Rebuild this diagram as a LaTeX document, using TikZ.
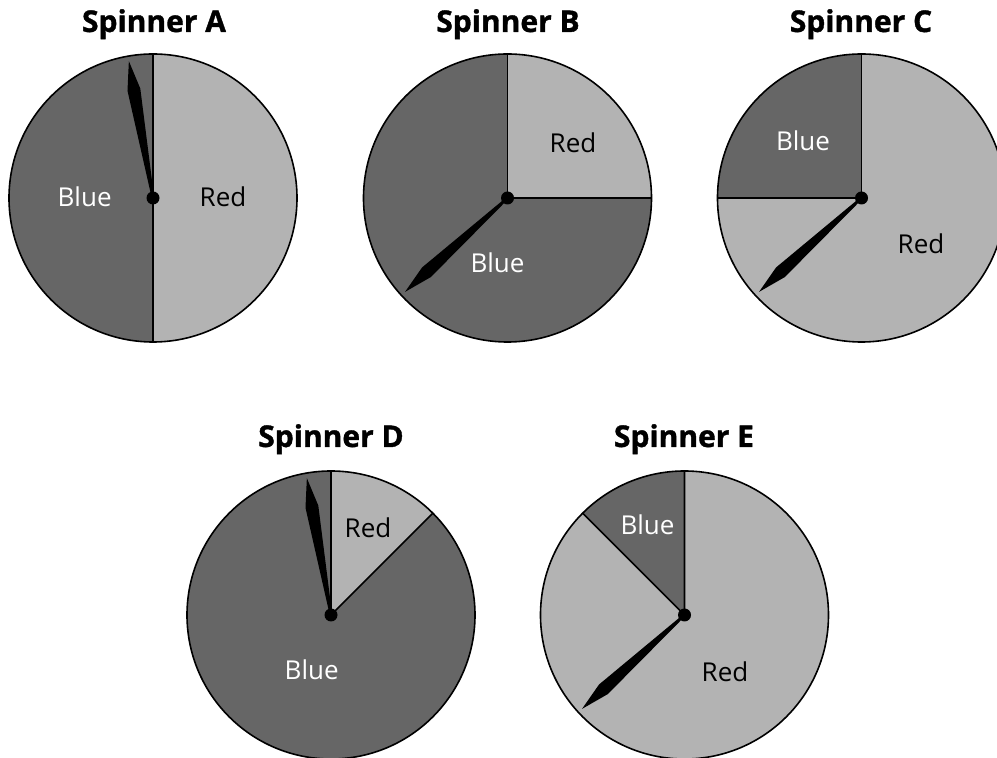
\documentclass[tikz,border=0pt]{standalone}
\usepackage{fontspec}
\setmainfont{Open Sans}
\newfontfamily\titlefont{Open Sans}[BoldFeatures={FakeBold=1.2}]
\usetikzlibrary{calc}
\definecolor{darkgr}{RGB}{102,102,102}
\definecolor{lightgr}{RGB}{179,179,179}
\tikzset{
  title/.style={anchor=base, font=\titlefont\fontsize{30}{36}\selectfont\bfseries, inner sep=0pt},
  lbl/.style={font=\fontsize{26}{30}\selectfont, inner sep=0pt},
  wlbl/.style={lbl, text=white},
  blbl/.style={lbl, text=black},
  rim/.style={draw=black, line width=1.6pt},
  divider/.style={draw=black, line width=1.6pt},
}
\newcommand{\needle}[2]{%
  \begin{scope}[shift={(#1)}, rotate=#2]
    \fill[black] (0,-1.2) -- (110,-6.5) -- (139,0) -- (110,6.5) -- (0,1.2) -- cycle;
  \end{scope}}
\begin{document}
\begin{tikzpicture}[x=1pt,y=1pt]
\useasboundingbox (0,0) rectangle (997,758);
\clip (0,0) rectangle (997,758);
% ---------- Spinner A
\coordinate (cA) at (153,560);
\fill[lightgr] (cA) circle[radius=144];
\fill[darkgr] (cA) -- ++(90:144) arc[start angle=90,end angle=270,radius=144] -- cycle;
\draw[divider] ($(cA)+(90:144)$) -- ($(cA)+(270:144)$);
\needle{cA}{100}
\draw[rim] (cA) circle[radius=144];
\fill (cA) circle[radius=6.5];
\node[title] (tA) at (154,726) {Spinner A};
\node[wlbl] (bA) at (84.6,561) {Blue};
\node[blbl] (rA) at (223,561) {Red};
% ---------- Spinner B
\coordinate (cB) at (507.5,560);
\fill[darkgr] (cB) circle[radius=144];
\fill[lightgr] (cB) -- ++(0:144) arc[start angle=0,end angle=90,radius=144] -- cycle;
\draw[divider] ($(cB)+(90:144)$) -- (cB) -- ($(cB)+(0:144)$);
\needle{cB}{222.5}
\draw[rim] (cB) circle[radius=144];
\fill (cB) circle[radius=6.5];
\node[title] (tB) at (508,726) {Spinner B};
\node[blbl] (rB) at (573,615) {Red};
\node[wlbl] (bB) at (497.5,495) {Blue};
% ---------- Spinner C
\coordinate (cC) at (861.5,560);
\fill[lightgr] (cC) circle[radius=144];
\fill[darkgr] (cC) -- ++(90:144) arc[start angle=90,end angle=180,radius=144] -- cycle;
\draw[divider] ($(cC)+(90:144)$) -- (cC) -- ($(cC)+(180:144)$);
\needle{cC}{222.5}
\draw[rim] (cC) circle[radius=144];
\fill (cC) circle[radius=6.5];
\node[title] (tC) at (861,726) {Spinner C};
\node[wlbl] (bC) at (803,617.3) {Blue};
\node[blbl] (rC) at (921,514) {Red};
% ---------- Spinner D
\coordinate (cD) at (331,143);
\fill[darkgr] (cD) circle[radius=144];
\fill[lightgr] (cD) -- ++(45:144) arc[start angle=45,end angle=90,radius=144] -- cycle;
\draw[divider] ($(cD)+(90:144)$) -- (cD) -- ($(cD)+(45:144)$);
\needle{cD}{100}
\draw[rim] (cD) circle[radius=144];
\fill (cD) circle[radius=6.5];
\node[title] (tD) at (331,311) {Spinner D};
\node[blbl] (rD) at (368,230) {Red};
\node[wlbl] (bD) at (311.7,88) {Blue};
% ---------- Spinner E
\coordinate (cE) at (684.5,143);
\fill[lightgr] (cE) circle[radius=144];
\fill[darkgr] (cE) -- ++(90:144) arc[start angle=90,end angle=135,radius=144] -- cycle;
\draw[divider] ($(cE)+(90:144)$) -- (cE) -- ($(cE)+(135:144)$);
\needle{cE}{222.5}
\draw[rim] (cE) circle[radius=144];
\fill (cE) circle[radius=6.5];
\node[title] (tE) at (684,311) {Spinner E};
\node[wlbl] (bE) at (647.5,233) {Blue};
\node[blbl] (rE) at (725,86.3) {Red};
\end{tikzpicture}
\end{document}
